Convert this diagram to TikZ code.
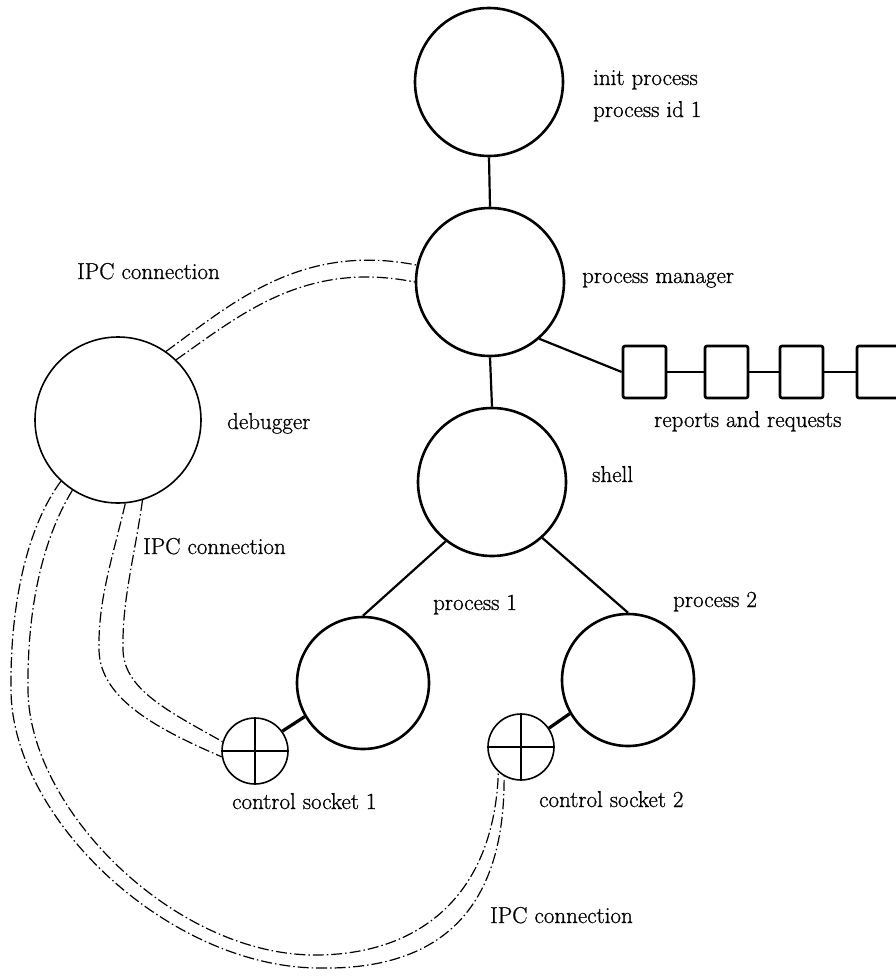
\documentclass[tikz,border=0pt]{standalone}
\usepackage{fontspec}
\newfontfamily\lblfont{Latin Modern Roman}[UprightFeatures={FakeBold=0.8}]
\begin{document}
\begin{tikzpicture}[x=1pt,y=-1pt]
\tikzset{
 big/.style={circle,draw,line width=2.6pt,inner sep=0pt,minimum size=148pt},
 mid/.style={circle,draw,line width=2.6pt,inner sep=0pt,minimum size=132pt},
 dbgc/.style={circle,draw,line width=1.6pt,inner sep=0pt,minimum size=166pt},
 sock/.style={circle,draw,line width=1.6pt,inner sep=0pt,minimum size=66pt},
 qbox/.style={rectangle,draw,line width=2.6pt,rounded corners=2pt,minimum width=43pt,minimum height=52pt,inner sep=0pt},
 conn/.style={line width=2.2pt},
 sconn/.style={line width=3.2pt},
 ipc/.style={line width=1.2pt,dash pattern=on 11pt off 3pt on 1.5pt off 3pt},
 lbl/.style={anchor=base west,inner sep=0pt,font=\lblfont\fontsize{23}{28}\selectfont},
}
\useasboundingbox (0,0) rectangle (895,977);
\fill[white] (0,0) rectangle (895,977);
% nodes
\node[big] (init) at (489,82) {};
\node[big] (pm) at (490,282) {};
\node[big] (sh) at (492,482) {};
\node[mid] (p1) at (363,683) {};
\node[mid] (p2) at (628,680) {};
\node[dbgc] (dbg) at (118,420) {};
\node[sock] (s1) at (255,751) {};
\node[sock] (s2) at (521,747) {};
\node[qbox] (b1) at (644.5,372) {};
\node[qbox] (b2) at (726.5,372) {};
\node[qbox] (b3) at (801.5,372) {};
\node[qbox] (b4) at (878.5,372) {};
% socket crosses
\draw[line width=1.6pt] (s1.north) -- (s1.south) (s1.west) -- (s1.east);
\draw[line width=1.6pt] (s2.north) -- (s2.south) (s2.west) -- (s2.east);
% solid connectors
\draw[conn] (init.south) -- (pm.north);
\draw[conn] (pm.south) -- (sh.north);
\draw[conn] (pm.311) -- (b1.west);
\draw[conn] (b1.east) -- (b2.west);
\draw[conn] (b2.east) -- (b3.west);
\draw[conn] (b3.east) -- (b4.west);
\draw[conn] (sh.232) -- (p1.north);
\draw[conn] (sh.312) -- (p2.north);
\draw[sconn] (p1.210) -- (s1.36);
\draw[sconn] (p2.210) -- (s2.34);
% IPC connections
\draw[ipc] (dbg.55) .. controls (230,305) and (300,242) .. (pm.167);
\draw[ipc] (dbg.46) .. controls (240,315) and (305,260) .. (pm.180);
\draw[ipc] (dbg.275) .. controls (112,560) and (98,600) .. (99,650)
           .. controls (100,700) and (160,730) .. (s1.190);
\draw[ipc] (dbg.287) .. controls (134,560) and (122,600) .. (123,650)
           .. controls (124,690) and (170,712) .. (s1.164);
\draw[ipc] (dbg.227) .. controls (25,530) and (10,610) .. (11,690)
           .. controls (12,820) and (170,968) .. (320,968)
           .. controls (440,970) and (505,910) .. (s2.240);
\draw[ipc] (dbg.237) .. controls (42,540) and (27,610) .. (28,690)
           .. controls (29,810) and (175,955) .. (315,955)
           .. controls (420,955) and (494,895) .. (s2.228);
% labels
\node[lbl] (tinit) at (593,85) {init process};
\node[lbl] (tpid) at (593,117) {process id 1};
\node[lbl] (tpm) at (582,283) {process manager};
\node[lbl] (tipc1) at (77,279) {IPC connection};
\node[lbl] (tdbg) at (227,429) {debugger};
\node[lbl] (trr) at (654,427) {reports and requests};
\node[lbl] (tsh) at (592,482) {shell};
\node[lbl] (tipc2) at (143,554) {IPC connection};
\node[lbl] (tp1) at (433,610) {process 1};
\node[lbl] (tp2) at (673,607) {process 2};
\node[lbl] (tcs1) at (232,809) {control socket 1};
\node[lbl] (tcs2) at (539,807) {control socket 2};
\node[lbl] (tipc3) at (490,923) {IPC connection};
\end{tikzpicture}
\end{document}
